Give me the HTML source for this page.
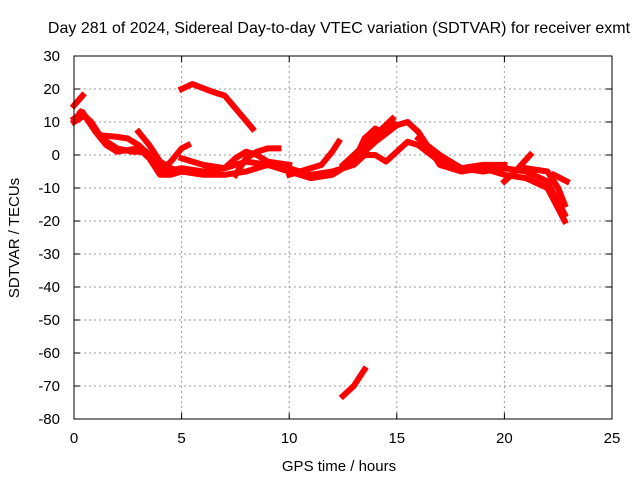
<!DOCTYPE html>
<html><head><meta charset="utf-8"><style>body{margin:0;background:#fff}svg{display:block;font-family:"Liberation Sans",sans-serif}</style></head>
<body>
<svg id="chart" width="640" height="480">
<text x="339" y="33" font-size="16" text-anchor="middle">Day 281 of 2024, Sidereal Day-to-day VTEC variation (SDTVAR) for receiver exmt</text>
<text x="339" y="471" font-size="15" text-anchor="middle">GPS time / hours</text>
<text transform="translate(19,238) rotate(-90)" font-size="15" text-anchor="middle">SDTVAR / TECUs</text>
<g id="grid"></g><g id="ticks"></g><g id="series"></g>
<rect x="74" y="56" width="538" height="363" fill="none" stroke="#000"/>
</svg>
<script>
const xTicks=[0,5,10,15,20,25];
const yTicks=[30,20,10,0,-10,-20,-30,-40,-50,-60,-70,-80];
const track1=[[0,15],[0.4,18]];
const track2=[[0,11],[0.4,13],[0.8,9],[1.2,6],[2,5.5],[2.5,5],[3,3],[3.5,0],[4,-4],[4.3,-5],[5,-4],[6,-5],[7,-4],[8,-2],[9,-3],[10,-4],[11,-6],[12,-5],[13,-3],[13.5,0],[14,0],[14.5,-2],[15,1],[15.5,4],[16,3],[17,-2],[18,-4],[19,-5],[20,-4],[21,-5],[22,-8],[22.8,-18]];
const track3=[[0,10],[0.5,12],[1,7],[1.5,3],[2,1],[3,2],[3.5,-1],[4,-6],[4.5,-6],[5,-5],[6,-6],[7,-6],[8,-5],[9,-3],[10,-5],[11,-7],[12,-6],[13,-2],[14,4],[15,9],[15.5,10],[16,7],[16.5,2],[17,-3],[18,-5],[19,-4],[20,-6],[21,-7],[22,-10],[22.8,-20]];
const track4=[[0.3,13],[0.8,10],[1.3,5],[2,2],[2.7,1],[3.3,1]];
const track5=[[3,7],[3.5,3],[4,-2],[4.5,-4],[5,-5]];
const track6=[[4,-5],[4.5,-2],[5,2],[5.3,3]];
const track7=[[5,20],[5.5,21.5],[6.5,19],[7,18],[8.3,8]];
const track8=[[7.5,-6],[8,-1],[8.5,1],[9,2],[9.5,2]];
const track9=[[5,-1],[6,-3],[7,-4],[7.5,-1],[8,1],[8.5,0],[9,-2],[10,-3]];
const track10=[[10,-6],[11.5,-3],[12,1],[12.3,4]];
const track11=[[12.5,-3],[13.5,3],[14,6],[14.8,11]];
const track12=[[13,-2],[13.5,5],[14,8],[14.3,7],[14.8,10]];
const track13=[[16,5],[17,0],[18,-4],[19,-3],[20,-3]];
const track14=[[20,-8],[20.5,-5],[21.2,0]];
const track15=[[21,-4],[22,-5],[22.5,-10],[22.8,-15]];
const track16=[[22.3,-6],[22.9,-8]];
const track17=[[12.5,-73],[13,-70],[13.5,-65]];
const tracks=[track1,track2,track3,track4,track5,track6,track7,track8,track9,track10,track11,track12,track13,track14,track15,track16,track17];
const X=v=>74+v*538/25, Y=v=>56+(30-v)*363/110;
const NS="http://www.w3.org/2000/svg";
const grid=document.getElementById('grid'),ticks=document.getElementById('ticks'),ser=document.getElementById('series');
function mk(t,a,p){const e=document.createElementNS(NS,t);for(const k in a)e.setAttribute(k,a[k]);p.appendChild(e);return e;}
xTicks.forEach(v=>{const x=X(v);
 if(v>0&&v<25){const g=mk('line',{x1:x,x2:x,y1:56,y2:419,stroke:'#999','stroke-dasharray':'2,3'},grid);
 
 }
 mk('line',{x1:x,x2:x,y1:419,y2:413,stroke:'#000'},ticks);mk('line',{x1:x,x2:x,y1:56,y2:62,stroke:'#000'},ticks);
 const t=mk('text',{x:x,y:443,'font-size':15,'text-anchor':'middle'},ticks);t.textContent=v;
 
 });
yTicks.forEach(v=>{const y=Y(v);
 if(v<30&&v>-80){const g=mk('line',{x1:74,x2:612,y1:y,y2:y,stroke:'#999','stroke-dasharray':'2,3'},grid);
 
 }
 mk('line',{x1:74,x2:80,y1:y,y2:y,stroke:'#000'},ticks);mk('line',{x1:612,x2:606,y1:y,y2:y,stroke:'#000'},ticks);
 const t=mk('text',{x:60,y:y+5,'font-size':15,'text-anchor':'end'},ticks);t.textContent=v;
 
 });
tracks.forEach(tr=>{const p=mk('polyline',{points:tr.map(d=>X(d[0])+','+Y(d[1])).join(' '),fill:'none',stroke:'#f00','stroke-width':6,'stroke-linejoin':'round','stroke-linecap':'square'},ser);
 
 });
</script>
</body></html>
